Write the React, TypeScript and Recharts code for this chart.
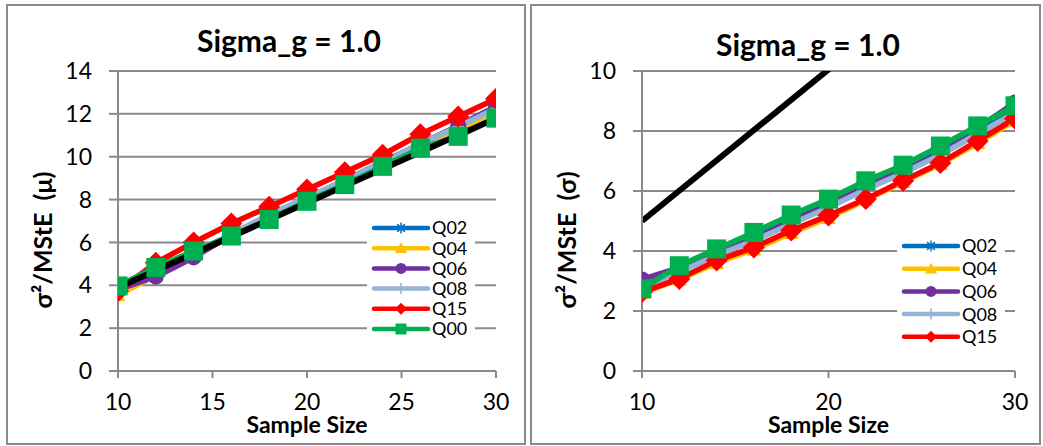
import React from 'react';
import { LineChart, Line, XAxis, YAxis, CartesianGrid, Legend } from 'recharts';

// ---------- data ----------
const sampleSizes = [10, 12, 14, 16, 18, 20, 22, 24, 26, 28, 30];

// Left panel: sigma^2 / MStE (mu)
const muQ02 = [3.95, 4.65, 5.5, 6.35, 7.2, 8.05, 8.85, 9.7, 10.55, 11.35, 12.15];
const muQ04 = [3.55, 4.45, 5.35, 6.3, 7.15, 8.0, 8.85, 9.7, 10.5, 11.3, 12.1];
const muQ06 = [3.8, 4.4, 5.3, 6.35, 7.25, 8.05, 8.9, 9.75, 10.6, 11.45, 12.35];
const muQ08 = [4.0, 4.7, 5.5, 6.4, 7.3, 8.1, 8.9, 9.75, 10.6, 11.4, 12.25];
const muQ15 = [3.72, 5.05, 6.0, 6.88, 7.67, 8.47, 9.27, 10.09, 11.05, 11.88, 12.7];
const muQ00 = [3.97, 4.83, 5.6, 6.3, 7.07, 7.92, 8.7, 9.55, 10.4, 10.95, 11.8];
const muRefX = [10, 30];
const muRefY = [3.9, 11.8];

// Right panel: sigma^2 / MStE (sigma)
const sgQ02 = [2.8, 3.4, 3.95, 4.5, 5.05, 5.6, 6.2, 6.75, 7.35, 8.0, 8.7];
const sgQ04 = [2.6, 3.05, 3.6, 4.05, 4.6, 5.1, 5.7, 6.3, 6.9, 7.6, 8.35];
const sgQ06 = [3.05, 3.45, 4.0, 4.55, 5.1, 5.65, 6.25, 6.8, 7.45, 8.1, 8.95];
const sgQ08 = [2.7, 3.3, 3.85, 4.35, 4.9, 5.45, 6.05, 6.6, 7.2, 7.9, 8.6];
const sgQ15 = [2.63, 3.07, 3.68, 4.12, 4.68, 5.18, 5.73, 6.34, 6.93, 7.67, 8.41];
const sgQ00 = [2.74, 3.51, 4.07, 4.62, 5.2, 5.73, 6.34, 6.86, 7.5, 8.17, 8.84];
const sgRefX = [10, 30];
const sgRefY = [5.0, 15.1];

const muXTicks = [10, 15, 20, 25, 30];
const muYTicks = [0, 2, 4, 6, 8, 10, 12, 14];
const sgXTicks = [10, 20, 30];
const sgYTicks = [0, 2, 4, 6, 8, 10];

const titleText = 'Sigma_g = 1.0';
const xLabelText = 'Sample Size';
const muYLabel = 'σ²/MStE  (μ)';
const sgYLabel = 'σ²/MStE  (σ)';

const seriesNames = ['Q02', 'Q04', 'Q06', 'Q08', 'Q15', 'Q00'];
const muLegendNames = ['Q02', 'Q04', 'Q06', 'Q08', 'Q15', 'Q00'];
const sgLegendNames = ['Q02', 'Q04', 'Q06', 'Q08', 'Q15'];

// ---------- styles ----------
const FONT = 'Lato, "Noto Sans", sans-serif';
const GRID = '#8a8a8a';
const STYLE: Record<string, { color: string; shape: string }> = {
  Q02: { color: '#0070C0', shape: 'star' },
  Q04: { color: '#FFC000', shape: 'triangle' },
  Q06: { color: '#7030A0', shape: 'circle' },
  Q08: { color: '#95B3D7', shape: 'plus' },
  Q15: { color: '#FF0000', shape: 'diamond' },
  Q00: { color: '#00B050', shape: 'square' },
};

function Marker({ cx, cy, shape, color, s }: { cx: number; cy: number; shape: string; color: string; s: number }) {
  const h = s / 2;
  switch (shape) {
    case 'square':
      return <rect x={cx - h} y={cy - h} width={s} height={s} fill={color} />;
    case 'diamond':
      return <polygon points={`${cx},${cy - h} ${cx + h},${cy} ${cx},${cy + h} ${cx - h},${cy}`} fill={color} />;
    case 'circle':
      return <circle cx={cx} cy={cy} r={h} fill={color} />;
    case 'triangle':
      return <polygon points={`${cx},${cy - h} ${cx + h},${cy + h * 0.8} ${cx - h},${cy + h * 0.8}`} fill={color} />;
    case 'star':
      return (
        <g stroke={color} strokeWidth={1.5}>
          <line x1={cx - h * 0.7} y1={cy - h * 0.7} x2={cx + h * 0.7} y2={cy + h * 0.7} />
          <line x1={cx - h * 0.7} y1={cy + h * 0.7} x2={cx + h * 0.7} y2={cy - h * 0.7} />
          <line x1={cx} y1={cy - h} x2={cx} y2={cy + h} />
        </g>
      );
    case 'plus':
      return (
        <g stroke={color} strokeWidth={1.5}>
          <line x1={cx - h} y1={cy} x2={cx + h} y2={cy} />
          <line x1={cx} y1={cy - h} x2={cx} y2={cy + h} />
        </g>
      );
    default:
      return null;
  }
}

const DOT_SIZE: Record<string, number> = { square: 19, diamond: 22, circle: 16, triangle: 15, star: 12, plus: 12 };
const LEG_SIZE: Record<string, number> = { square: 11, diamond: 12, circle: 11, triangle: 12, star: 11, plus: 11 };

const makeDot = (name: string) => (props: any) => {
  const { cx, cy, index } = props;
  const st = STYLE[name];
  if (cx == null || cy == null) return <g key={`${name}-${index}`} />;
  return (
    <g key={`${name}-${index}`}>
      <Marker cx={cx} cy={cy} shape={st.shape} color={st.color} s={DOT_SIZE[st.shape]} />
    </g>
  );
};

function LegendBox({ names, width, height, top, step }: { names: string[]; width: number; height: number; top: number; step: number }) {
  return (
    <svg width={width} height={height} style={{ display: 'block', background: '#fff' }}>
      {names.map((n, i) => {
        const st = STYLE[n];
        const cy = top + i * step;
        return (
          <g key={n}>
            <line x1={7} y1={cy} x2={61} y2={cy} stroke={st.color} strokeWidth={4.5} strokeLinecap="round" />
            <Marker cx={34} cy={cy} shape={st.shape} color={st.color} s={LEG_SIZE[st.shape]} />
            <text x={65} y={cy} dy="0.36em" fontFamily={FONT} fontSize={18} fill="#000">
              {n}
            </text>
          </g>
        );
      })}
    </svg>
  );
}

function buildRows(vals: number[][]) {
  return sampleSizes.map((x, i) => {
    const row: Record<string, number> = { x };
    seriesNames.forEach((n, k) => {
      row[n] = vals[k][i];
    });
    return row;
  });
}

const muRows = buildRows([muQ02, muQ04, muQ06, muQ08, muQ15, muQ00]);
const sgRows = buildRows([sgQ02, sgQ04, sgQ06, sgQ08, sgQ15, sgQ00]);
const muRef = muRefX.map((x, i) => ({ x, y: muRefY[i] }));
const sgRef = sgRefX.map((x, i) => ({ x, y: sgRefY[i] }));

type PanelProps = {
  width: number;
  height: number;
  rows: any[];
  ref2: any[];
  xTicks: number[];
  yTicks: number[];
  yMax: number;
  yLabel: string;
  legendNames: string[];
  legendPos: { left: number; top: number; width: number; height: number; first: number; step: number };
  titleX: number;
  titleY: number;
  marginRight: number;
};

function Panel(p: PanelProps) {
  const plotLeft = 110;
  const plotRight = p.width - p.marginRight;
  return (
    <LineChart width={p.width} height={p.height} data={p.rows} margin={{ top: 65, right: p.marginRight, bottom: 0, left: 0 }}>
      <CartesianGrid vertical={false} stroke={GRID} strokeWidth={2} />
      <XAxis
        dataKey="x"
        type="number"
        domain={[10, 30]}
        ticks={p.xTicks}
        interval={0}
        height={72}
        stroke={GRID}
        strokeWidth={2}
        tickSize={7}
        tickMargin={16}
        tick={{ fill: '#000', fontSize: 23, fontFamily: FONT }}
        tickLine={{ stroke: GRID, strokeWidth: 2 }}
        allowDataOverflow
      />
      <YAxis
        type="number"
        domain={[0, p.yMax]}
        ticks={p.yTicks}
        interval={0}
        width={110}
        stroke={GRID}
        strokeWidth={2}
        tickSize={9}
        tickMargin={17}
        tick={{ fill: '#000', fontSize: 23, fontFamily: FONT }}
        tickLine={{ stroke: GRID, strokeWidth: 2 }}
        allowDataOverflow
      />
      {seriesNames.map((n) => (
        <Line
          key={n}
          type="linear"
          dataKey={n}
          name={n}
          stroke={STYLE[n].color}
          strokeWidth={5.5}
          strokeLinejoin="round"
          dot={makeDot(n)}
          activeDot={false}
          isAnimationActive={false}
        />
      ))}
      <Line
        data={p.ref2}
        type="linear"
        dataKey="y"
        name="ref"
        stroke="#000"
        strokeWidth={6}
        dot={false}
        activeDot={false}
        legendType="none"
        isAnimationActive={false}
      />
      <Legend
        layout="horizontal"
        verticalAlign="middle"
        align="center"
        wrapperStyle={{ left: p.legendPos.left, top: p.legendPos.top, width: p.legendPos.width, height: p.legendPos.height }}
        content={() => (
          <LegendBox
            names={p.legendNames}
            width={p.legendPos.width}
            height={p.legendPos.height}
            top={p.legendPos.first}
            step={p.legendPos.step}
          />
        )}
      />
      <text x={p.titleX} y={p.titleY} textAnchor="middle" fontFamily={FONT} fontWeight={700} fontSize={30} fill="#000">
        {titleText}
      </text>
      <text x={(plotLeft + plotRight) / 2} y={427} textAnchor="middle" fontFamily={FONT} fontWeight={700} fontSize={23} fill="#000">
        {xLabelText}
      </text>
      <text
        x={35}
        y={234}
        transform="rotate(-90 35 234)"
        textAnchor="middle"
        dy="0.35em"
        fontFamily={FONT}
        fontWeight={700}
        fontSize={25}
        fill="#000"
        style={{ whiteSpace: 'pre' }}
      >
        {p.yLabel}
      </text>
    </LineChart>
  );
}

export default function App() {
  return (
    <div style={{ position: 'absolute', left: 0, top: 0, width: 1043, height: 446, background: '#fff', overflow: 'hidden' }}>
      <div style={{ position: 'absolute', left: 6, top: 4, width: 516, height: 437, border: `2px solid ${GRID}` }}>
        <Panel
          width={516}
          height={437}
          rows={muRows}
          ref2={muRef}
          xTicks={muXTicks}
          yTicks={muYTicks}
          yMax={14}
          yLabel={muYLabel}
          legendNames={muLegendNames}
          legendPos={{ left: 359, top: 210, width: 108, height: 124, first: 12, step: 20.2 }}
          titleX={281}
          titleY={46}
          marginRight={28}
        />
      </div>
      <div style={{ position: 'absolute', left: 530, top: 4, width: 507, height: 437, border: `2px solid ${GRID}` }}>
        <Panel
          width={507}
          height={437}
          rows={sgRows}
          ref2={sgRef}
          xTicks={sgXTicks}
          yTicks={sgYTicks}
          yMax={10}
          yLabel={sgYLabel}
          legendNames={sgLegendNames}
          legendPos={{ left: 365, top: 228, width: 108, height: 118, first: 12, step: 22.7 }}
          titleX={276}
          titleY={50}
          marginRight={24}
        />
      </div>
    </div>
  );
}
